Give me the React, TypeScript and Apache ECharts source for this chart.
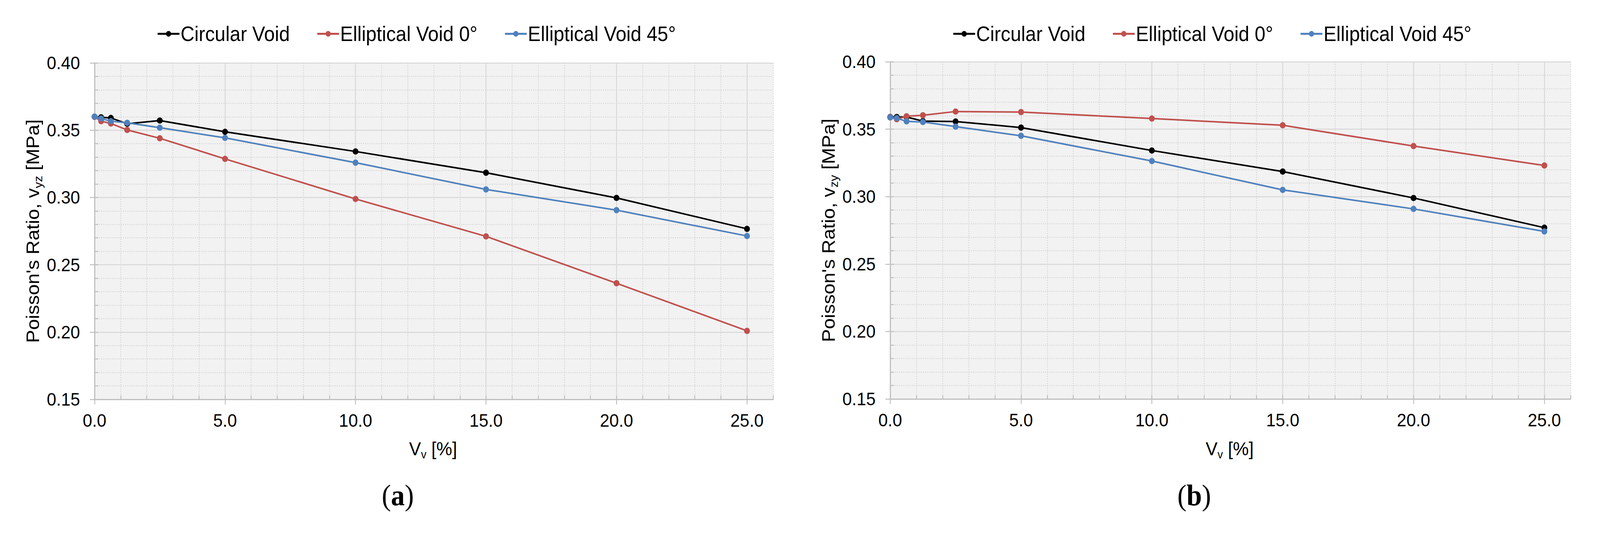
import React, { useEffect, useRef } from "react";
import * as echarts from "echarts";

// ---------- data ----------
const X_VALUES = [0, 0.25, 0.625, 1.25, 2.5, 5, 10, 15, 20, 25];
const SERIES_NAMES = ["Circular Void", "Elliptical Void 0°", "Elliptical Void 45°"];
const SERIES_COLORS = ["#000000", "#C0504D", "#4F81BD"];

const A_CIRCULAR = [0.36, 0.3596, 0.3591, 0.3548, 0.3572, 0.3488, 0.3342, 0.3184, 0.2997, 0.2767];
const A_ELLIPTICAL_0 = [0.36, 0.3567, 0.355, 0.3502, 0.344, 0.3287, 0.2989, 0.2711, 0.2363, 0.2009];
const A_ELLIPTICAL_45 = [0.3601, 0.3587, 0.3567, 0.3555, 0.3519, 0.3443, 0.3259, 0.306, 0.2906, 0.2714];

const B_CIRCULAR = [0.359, 0.359, 0.359, 0.356, 0.3557, 0.3512, 0.3342, 0.3186, 0.299, 0.277];
const B_ELLIPTICAL_0 = [0.3588, 0.3574, 0.3596, 0.3603, 0.3631, 0.3627, 0.3579, 0.3529, 0.3375, 0.3231];
const B_ELLIPTICAL_45 = [0.3587, 0.3582, 0.3558, 0.3553, 0.3519, 0.3451, 0.3264, 0.305, 0.2909, 0.2742];

const X_MIN = 0;
const X_MAX = 26;
const X_MAJOR = 5;
const X_MINOR = 1;
const X_TICKS = [0, 5, 10, 15, 20, 25];
const Y_MIN = 0.15;
const Y_MAX = 0.4;
const Y_MAJOR = 0.05;
const Y_MINOR = 0.01;

const X_TITLE_MAIN = "V";
const X_TITLE_SUB = "v";
const X_TITLE_TAIL = " [%]";
const Y_TITLE_A = ["Poisson's Ratio, v", "yz", " [MPa]"];
const Y_TITLE_B = ["Poisson's Ratio, v", "zy", " [MPa]"];
const CAPTIONS = ["a", "b"];

// ---------- styling ----------
const DESIGN_W = 4400;
const DESIGN_H = 1364;
const FONT = "'Liberation Sans', Arial, Helvetica, sans-serif";
const SERIF = "'Liberation Serif', 'Times New Roman', serif";
const GRID_COLOR = "#D9D9D9";
const AXIS_COLOR = "#BFBFBF";

const PANELS = [
  { left: 260, top: 161, width: 1866, height: 861, legendLeft: 426, yTitleX: 90, caption: 1094 },
  { left: 2448, top: 158, width: 1871, height: 863, legendLeft: 2614, yTitleX: 2278, caption: 3284 },
];

function pairs(ys: number[]) {
  return X_VALUES.map((x, i) => [x, ys[i]]);
}

export default function App() {
  const ref = useRef<HTMLDivElement>(null);
  const vw = typeof window !== "undefined" ? window.innerWidth : DESIGN_W;
  const sx = Math.min(1, vw / DESIGN_W);

  useEffect(() => {
    document.body.style.margin = "0";
    document.body.style.overflow = "hidden";
    if (!ref.current) return;
    const chart = echarts.init(ref.current, null, { renderer: "svg" });

    const grids: any[] = [];
    const xAxes: any[] = [];
    const yAxes: any[] = [];
    const legends: any[] = [];
    const series: any[] = [];
    const graphics: any[] = [];

    const panelData = [
      [A_CIRCULAR, A_ELLIPTICAL_0, A_ELLIPTICAL_45],
      [B_CIRCULAR, B_ELLIPTICAL_0, B_ELLIPTICAL_45],
    ];
    const yTitles = [Y_TITLE_A, Y_TITLE_B];

    PANELS.forEach((p, gi) => {
      grids.push({
        left: p.left,
        top: p.top,
        width: p.width,
        height: p.height,
        show: true,
        backgroundColor: "#F2F2F2",
        borderWidth: 0,
        containLabel: false,
      });

      // minor x axis: dotted grid + inward ticks
      xAxes.push({
        type: "value",
        gridIndex: gi,
        position: "bottom",
        min: X_MIN,
        max: X_MAX,
        interval: X_MINOR,
        axisLine: { show: false, onZero: false },
        axisLabel: { show: false },
        axisTick: { show: true, inside: true, length: 10, lineStyle: { color: AXIS_COLOR, width: 2.5 } },
        splitLine: { show: true, lineStyle: { color: GRID_COLOR, width: 2.5, type: [3, 3] } },
      });
      // main x axis
      xAxes.push({
        type: "value",
        gridIndex: gi,
        position: "bottom",
        min: X_MIN,
        max: X_MAX,
        interval: X_MAJOR,
        axisLine: { show: true, onZero: false, lineStyle: { color: AXIS_COLOR, width: 3 } },
        axisTick: {
          show: true,
          inside: false,
          length: 13,
          lineStyle: { color: AXIS_COLOR, width: 2.5 },
          customValues: X_TICKS,
        },
        axisLabel: {
          show: true,
          margin: 30,
          fontSize: 47,
          fontFamily: FONT,
          color: "#000",
          customValues: X_TICKS,
          formatter: (v: number) => (Math.abs(v % X_MAJOR) < 1e-9 ? v.toFixed(1) : ""),
        },
        splitLine: { show: true, lineStyle: { color: GRID_COLOR, width: 2.5, type: "solid" } },
      });

      // minor y axis
      yAxes.push({
        type: "value",
        gridIndex: gi,
        position: "left",
        min: Y_MIN,
        max: Y_MAX,
        interval: Y_MINOR,
        axisLine: { show: false, onZero: false },
        axisLabel: { show: false },
        axisTick: { show: true, inside: true, length: 10, lineStyle: { color: AXIS_COLOR, width: 2.5 } },
        splitLine: { show: true, lineStyle: { color: GRID_COLOR, width: 2.5, type: [3, 3] } },
      });
      // main y axis
      yAxes.push({
        type: "value",
        gridIndex: gi,
        position: "left",
        min: Y_MIN,
        max: Y_MAX,
        interval: Y_MAJOR,
        axisLine: { show: true, onZero: false, lineStyle: { color: AXIS_COLOR, width: 3 } },
        axisTick: { show: true, inside: false, length: 13, lineStyle: { color: AXIS_COLOR, width: 2.5 } },
        axisLabel: {
          show: true,
          margin: 40,
          fontSize: 47,
          fontFamily: FONT,
          color: "#000",
          formatter: (v: number) => v.toFixed(2),
        },
        splitLine: { show: true, lineStyle: { color: GRID_COLOR, width: 2.5, type: "solid" } },
      });

      legends.push({
        left: p.legendLeft,
        top: 55,
        itemWidth: 60,
        itemHeight: 18,
        itemGap: 73,
        selectedMode: false,
        data: SERIES_NAMES,
        lineStyle: { width: 5 },
        textStyle: { fontSize: 53, fontFamily: FONT, color: "#000", padding: [0, 0, 0, -2] },
      });

      panelData[gi].forEach((ys, si) => {
        series.push({
          type: "line",
          name: SERIES_NAMES[si],
          xAxisIndex: gi * 2 + 1,
          yAxisIndex: gi * 2 + 1,
          data: pairs(ys),
          symbol: "circle",
          symbolSize: 16,
          showAllSymbol: true,
          color: SERIES_COLORS[si],
          itemStyle: { color: SERIES_COLORS[si] },
          lineStyle: { color: SERIES_COLORS[si], width: 4 },
          z: 3 + si,
        });
      });

      const cx = p.left + p.width / 2;
      graphics.push({
        type: "text",
        x: cx - 2,
        y: 1148,
        style: {
          text: `{m|${X_TITLE_MAIN}}{s|${X_TITLE_SUB}}{m|${X_TITLE_TAIL}}`,
          align: "center",
          verticalAlign: "middle",
          rich: {
            m: { fontSize: 49, fontFamily: FONT, fill: "#000", lineHeight: 60 },
            s: { fontSize: 30, fontFamily: FONT, fill: "#000", lineHeight: 30, verticalAlign: "bottom" },
          },
        },
      });
      const yt = yTitles[gi];
      graphics.push({
        type: "text",
        x: p.yTitleX,
        y: p.top + p.height / 2,
        rotation: Math.PI / 2,
        style: {
          text: `{m|${yt[0]}}{s|${yt[1]}}{m|${yt[2]}}`,
          align: "center",
          verticalAlign: "middle",
          rich: {
            m: { fontSize: 50, fontFamily: FONT, fill: "#000", lineHeight: 62 },
            s: { fontSize: 32, fontFamily: FONT, fill: "#000", lineHeight: 31, verticalAlign: "bottom" },
          },
        },
      });
      graphics.push({
        type: "text",
        x: p.caption,
        y: 1268,
        style: {
          text: `{r|(}{b|${CAPTIONS[gi]}}{r|)}`,
          align: "center",
          verticalAlign: "middle",
          rich: {
            r: { fontSize: 76, fontFamily: SERIF, fill: "#000" },
            b: { fontSize: 76, fontFamily: SERIF, fontWeight: "bold", fill: "#000" },
          },
        },
      });
    });

    chart.setOption({
      animation: false,
      backgroundColor: "#FFFFFF",
      grid: grids,
      xAxis: xAxes,
      yAxis: yAxes,
      legend: legends,
      series,
      graphic: graphics,
    });

    return () => chart.dispose();
  }, []);

  return (
    <div style={{ width: "100vw", height: DESIGN_H, overflow: "hidden", background: "#FFFFFF" }}>
      <div
        ref={ref}
        style={{
          width: DESIGN_W,
          height: DESIGN_H,
          transform: `scale(${sx}, 1)`,
          transformOrigin: "0 0",
        }}
      />
    </div>
  );
}
